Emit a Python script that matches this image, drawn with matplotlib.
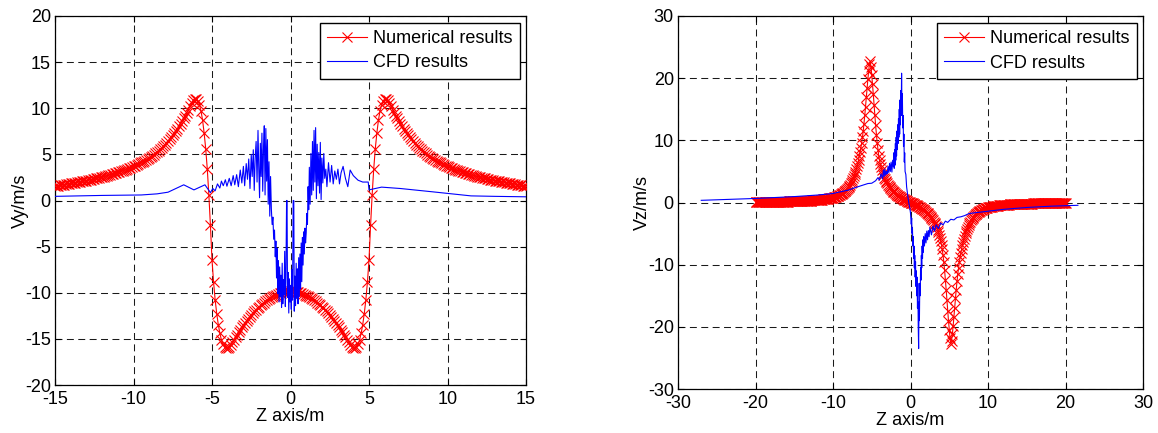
import numpy as np
import matplotlib
matplotlib.use("Agg")
import matplotlib.pyplot as plt

plt.rcParams['font.family'] = ['Liberation Sans', 'DejaVu Sans']
plt.rcParams['axes.unicode_minus'] = False
plt.rcParams['lines.scale_dashes'] = False

# ---------------------------------------------------------------------------
# Vy along the Z axis (left panel)
# Numerical Vy sampled every 0.1 m for z = 0 ... 15 m; the profile is
# symmetric about z = 0, so the z < 0 half reuses the same samples.
vy_num_half = [
    -9.80, -9.81, -9.82, -9.85, -9.89, -9.95, -10.01, -10.08, -10.15, -10.22,
    -10.30, -10.39, -10.48, -10.58, -10.69, -10.80, -10.93, -11.06, -11.20, -11.35,
    -11.50, -11.67, -11.84, -12.02, -12.21, -12.40, -12.61, -12.82, -13.04, -13.27,
    -13.50, -13.75, -14.00, -14.26, -14.53, -14.80, -15.08, -15.36, -15.62, -15.85,
    -16.00, -16.02, -15.90, -15.60, -15.10, -14.40, -13.45, -12.25, -10.75, -8.85,
    -6.45, -2.70, 0.60, 3.40, 5.60, 7.30, 8.70, 9.70, 10.40, 10.80,
    11.00, 11.05, 10.88, 10.58, 10.22, 9.86, 9.52, 9.20, 8.90, 8.60,
    8.32, 8.05, 7.79, 7.54, 7.30, 7.07, 6.85, 6.64, 6.44, 6.25,
    6.06, 5.88, 5.71, 5.55, 5.40, 5.25, 5.11, 4.98, 4.85, 4.72,
    4.60, 4.50, 4.40, 4.30, 4.21, 4.12, 4.03, 3.95, 3.87, 3.79,
    3.71, 3.64, 3.57, 3.50, 3.43, 3.36, 3.29, 3.23, 3.17, 3.11,
    3.05, 2.99, 2.94, 2.89, 2.84, 2.79, 2.74, 2.69, 2.64, 2.60,
    2.55, 2.51, 2.47, 2.43, 2.39, 2.35, 2.31, 2.27, 2.23, 2.20,
    2.16, 2.13, 2.09, 2.06, 2.03, 2.00, 1.97, 1.94, 1.91, 1.88,
    1.85, 1.82, 1.79, 1.76, 1.73, 1.70, 1.67, 1.65, 1.62, 1.60,
    1.57,
]

# CFD Vy (irregular mesh points)
z_cfd_vy = [
    -15.00, -12.00, -9.50, -8.50, -7.80, -6.80, -6.15, -5.45, -5.10, -4.95,
    -4.80, -4.65, -4.50, -4.40, -4.28, -4.15, -4.05, -3.90, -3.78, -3.65,
    -3.55, -3.43, -3.32, -3.20, -3.10, -3.00, -2.92, -2.82, -2.74, -2.66,
    -2.58, -2.50, -2.44, -2.37, -2.31, -2.25, -2.19, -2.13, -2.07, -2.02,
    -1.97, -1.92, -1.87, -1.82, -1.77, -1.72, -1.67, -1.62, -1.57, -1.52,
    -1.47, -1.42, -1.37, -1.32, -1.27, -1.22, -1.17, -1.12, -1.07, -1.02,
    -0.97, -0.93, -0.89, -0.85, -0.81, -0.77, -0.73, -0.69, -0.65, -0.61,
    -0.57, -0.53, -0.49, -0.45, -0.41, -0.37, -0.33, -0.29, -0.25, -0.22,
    -0.19, -0.15, -0.11, -0.07, -0.03, 0.01, 0.05, 0.09, 0.13, 0.17,
    0.21, 0.24, 0.28, 0.32, 0.36, 0.40, 0.44, 0.48, 0.52, 0.56,
    0.60, 0.64, 0.68, 0.72, 0.76, 0.80, 0.84, 0.88, 0.92, 0.96,
    1.00, 1.04, 1.08, 1.12, 1.16, 1.20, 1.25, 1.30, 1.35, 1.40,
    1.45, 1.50, 1.55, 1.60, 1.65, 1.70, 1.75, 1.80, 1.85, 1.90,
    1.95, 2.00, 2.06, 2.12, 2.18, 2.25, 2.32, 2.42, 2.52, 2.62,
    2.72, 2.82, 2.92, 3.02, 3.12, 3.22, 3.35, 3.50, 3.65, 3.80,
    4.00, 4.30, 4.60, 4.95, 5.00, 5.80, 7.00, 9.00, 11.50, 13.00,
    15.00,
]
vy_cfd = [
    0.45, 0.55, 0.60, 0.72, 0.90, 1.70, 1.15, 1.70, 0.85, 1.30,
    1.05, 1.80, 1.35, 2.10, 1.60, 2.25, 1.55, 2.40, 1.60, 2.70,
    1.70, 2.80, 1.50, 3.30, 1.90, 3.70, 1.60, 4.00, 2.30, 4.50,
    1.30, 5.00, 2.60, 5.50, 1.10, 4.60, 6.40, 2.00, 7.60, 3.40,
    0.30, 6.20, 2.60, 7.30, 1.00, 5.50, 8.10, 0.60, 7.80, 2.10,
    6.60, -0.40, 4.20, -1.70, 2.60, -0.90, -2.60, -1.80, -4.20, -3.20,
    -6.10, -4.40, -8.40, -5.20, -10.10, -6.50, -11.00, -7.20, -10.40, -8.10,
    -11.60, -6.80, -11.20, -8.60, -10.20, -5.50, -11.50, -8.00, 0.00, 0.00,
    -10.50, -7.80, -12.20, -8.50, -11.00, -9.20, -11.80, -7.50, -10.80, 0.00,
    0.00, -12.00, -8.20, -11.40, -6.80, -10.60, -7.40, -11.20, -6.20, -10.40,
    -5.80, -9.60, -4.60, -8.80, -4.00, -7.00, -3.40, -5.80, -3.00, -4.60,
    -3.50, -1.40, -2.60, 1.50, -1.00, 3.60, -0.40, 5.10, 0.60, 6.40,
    1.10, 7.60, 2.00, 7.90, 0.20, 6.10, 1.60, 5.20, 0.80, 6.30,
    0.10, 4.60, 1.90, 5.10, 2.40, 3.40, 1.50, 4.10, 2.00, 3.80,
    1.80, 3.20, 2.30, 3.40, 1.80, 3.00, 3.70, 2.40, 1.50, 3.30,
    2.70, 2.20, 2.00, 2.00, 1.15, 1.45, 1.30, 0.95, 0.50, 0.45,
    0.40,
]

# ---------------------------------------------------------------------------
# Vz along the Z axis (right panel)
# Numerical Vz sampled every 0.1 m for z = 0, -0.1, ... -20 m; the profile is
# antisymmetric about z = 0, so z > 0 takes the same samples with opposite sign.
vz_num_neg = [
    0.00, 0.05, 0.10, 0.15, 0.21, 0.27, 0.33, 0.39, 0.45, 0.52,
    0.59, 0.66, 0.74, 0.82, 0.90, 0.99, 1.08, 1.18, 1.28, 1.39,
    1.51, 1.63, 1.76, 1.89, 2.04, 2.20, 2.36, 2.53, 2.71, 2.88,
    3.06, 3.25, 3.46, 3.70, 4.00, 4.36, 4.77, 5.22, 5.70, 6.23,
    6.80, 7.55, 8.50, 9.60, 10.90, 12.40, 14.00, 15.70, 17.40, 19.00,
    20.50, 21.80, 22.70, 22.20, 21.20, 19.90, 18.40, 16.90, 15.40, 14.00,
    12.70, 11.50, 10.50, 9.60, 8.80, 8.10, 7.45, 6.85, 6.30, 5.80,
    5.35, 4.93, 4.55, 4.20, 3.88, 3.59, 3.33, 3.09, 2.87, 2.67,
    2.49, 2.32, 2.17, 2.03, 1.90, 1.78, 1.67, 1.57, 1.48, 1.40,
    1.32, 1.25, 1.18, 1.12, 1.06, 1.01, 0.96, 0.92, 0.88, 0.84,
    0.80, 0.77, 0.74, 0.71, 0.68, 0.66, 0.63, 0.61, 0.59, 0.57,
    0.55, 0.53, 0.51, 0.50, 0.48, 0.47, 0.45, 0.44, 0.43, 0.41,
    0.40, 0.39, 0.38, 0.37, 0.36, 0.35, 0.34, 0.33, 0.32, 0.32,
    0.31, 0.30, 0.29, 0.29, 0.28, 0.27, 0.27, 0.26, 0.25, 0.25,
    0.24, 0.24, 0.23, 0.23, 0.22, 0.22, 0.21, 0.21, 0.20, 0.20,
    0.19, 0.19, 0.19, 0.18, 0.18, 0.17, 0.17, 0.17, 0.16, 0.16,
    0.16, 0.15, 0.15, 0.15, 0.15, 0.14, 0.14, 0.14, 0.13, 0.13,
    0.13, 0.13, 0.12, 0.12, 0.12, 0.12, 0.12, 0.11, 0.11, 0.11,
    0.11, 0.11, 0.10, 0.10, 0.10, 0.10, 0.10, 0.10, 0.09, 0.09,
    0.09, 0.09, 0.09, 0.09, 0.09, 0.08, 0.08, 0.08, 0.08, 0.08,
    0.08,
]

# CFD Vz (irregular mesh points)
z_cfd_vz = [
    -27.00, -20.00, -15.00, -12.00, -10.00, -8.00, -7.00, -6.00, -5.50, -5.00,
    -4.50, -4.20, -4.00, -3.80, -3.60, -3.50, -3.40, -3.30, -3.20, -3.10,
    -3.00, -2.90, -2.80, -2.70, -2.60, -2.50, -2.40, -2.30, -2.20, -2.15,
    -2.10, -2.05, -2.00, -1.95, -1.90, -1.85, -1.80, -1.75, -1.70, -1.65,
    -1.60, -1.55, -1.50, -1.45, -1.40, -1.35, -1.30, -1.25, -1.20, -1.15,
    -1.10, -1.05, -1.00, -0.95, -0.90, -0.85, -0.80, -0.75, -0.70, -0.60,
    -0.50, -0.40, -0.30, -0.20, -0.10, 0.00, 0.10, 0.15, 0.20, 0.25,
    0.30, 0.35, 0.40, 0.45, 0.50, 0.55, 0.60, 0.65, 0.70, 0.75,
    0.80, 0.85, 0.90, 0.95, 1.00, 1.05, 1.10, 1.15, 1.20, 1.25,
    1.30, 1.35, 1.40, 1.45, 1.50, 1.55, 1.60, 1.65, 1.70, 1.80,
    1.90, 2.00, 2.10, 2.20, 2.30, 2.40, 2.50, 2.70, 2.90, 3.10,
    3.30, 3.60, 3.90, 4.20, 4.50, 4.80, 5.20, 5.60, 6.00, 6.50,
    7.00, 7.50, 8.00, 10.00, 12.00, 15.00, 18.00, 21.60,
]
vz_cfd = [
    0.35, 0.65, 0.95, 1.20, 1.45, 2.00, 2.45, 2.85, 3.05, 3.10,
    3.50, 4.00, 3.60, 4.60, 3.80, 5.20, 4.20, 5.40, 4.40, 5.00,
    4.60, 5.80, 4.80, 6.30, 5.00, 6.50, 4.90, 6.80, 5.80, 8.00,
    5.50, 8.50, 6.00, 9.50, 6.80, 10.50, 7.50, 11.50, 8.50, 12.50,
    9.50, 13.50, 10.50, 15.00, 11.00, 16.50, 12.50, 18.00, 14.00, 20.80,
    15.00, 17.50, 12.00, 14.00, 9.00, 11.00, 6.50, 8.00, 5.00, 4.50,
    2.50, 1.50, 0.60, -0.20, -0.80, -1.70, -3.50, -2.50, -5.00, -4.00,
    -7.00, -5.50, -9.00, -7.00, -10.50, -8.50, -12.00, -9.50, -13.50, -11.00,
    -15.00, -12.00, -17.00, -13.00, -20.00, -23.50, -16.00, -19.00, -13.00, -15.00,
    -10.50, -12.50, -8.50, -10.50, -7.00, -9.00, -6.00, -8.00, -5.50, -7.00,
    -5.00, -6.50, -4.60, -6.00, -4.50, -5.50, -4.00, -5.20, -3.80, -4.60,
    -3.60, -4.20, -3.30, -3.60, -3.00, -3.20, -2.70, -2.80, -2.40, -2.30,
    -2.10, -1.80, -1.70, -1.40, -1.10, -0.80, -0.60, -0.45,
]

legend_labels = ['Numerical results', 'CFD results']

# ---------------------------------------------------------------------------
vy_half = np.asarray(vy_num_half)
z_vy = np.round(np.linspace(-15.0, 15.0, 2 * len(vy_half) - 1), 2)
vy_num = np.concatenate([vy_half[:0:-1], vy_half])

vz_neg = np.asarray(vz_num_neg)
z_vz = np.round(np.linspace(-20.0, 20.0, 2 * len(vz_neg) - 1), 2)
vz_num = np.concatenate([vz_neg[::-1], -vz_neg[1:]])

fig = plt.figure(figsize=(11.58, 4.33), dpi=100)
ax1 = fig.add_axes([55 / 1158, 48 / 433, 471 / 1158, 369 / 433])
ax2 = fig.add_axes([678 / 1158, 44 / 433, 465 / 1158, 373 / 433])

FS = 13


def draw(ax, z_num, v_num, z_cfd, v_cfd, lim_x, lim_y, ticks_x, ticks_y,
         ylabel, ylabel_x):
    ax.plot(z_num, v_num, color='#ff0000', lw=0.8, marker='x', ms=6.5, mew=0.8,
            label=legend_labels[0], zorder=3)
    ax.plot(z_cfd, v_cfd, color='#0000ff', lw=0.8, label=legend_labels[1], zorder=4)
    ax.set_xlim(lim_x)
    ax.set_ylim(lim_y)
    ax.set_xticks(ticks_x)
    ax.set_yticks(ticks_y)
    ax.set_axisbelow(True)
    ax.grid(True, color='#1a1a1a', linestyle=(0, (5.0, 3.2)), linewidth=0.75)
    ax.tick_params(direction='in', top=True, right=True, length=4, width=0.8,
                   labelsize=FS, colors='k')
    ax.tick_params(axis='x', pad=4)
    ax.tick_params(axis='y', pad=3)
    for sp in ax.spines.values():
        sp.set_linewidth(0.9)
        sp.set_color('k')
    ax.set_xlabel('Z axis/m', fontsize=FS, labelpad=0)
    ax.set_ylabel(ylabel, fontsize=FS)
    ax.yaxis.set_label_coords(ylabel_x, 0.5)
    leg = ax.legend(loc='upper right', bbox_to_anchor=(0.987, 0.982),
                    borderaxespad=0, fancybox=False, framealpha=1,
                    edgecolor='k', fontsize=FS, handlelength=2.2,
                    handletextpad=0.35, borderpad=0.4, labelspacing=0.42)
    leg.get_frame().set_linewidth(1.0)


draw(ax1, z_vy, vy_num, z_cfd_vy, vy_cfd, (-15, 15), (-20, 20),
     np.arange(-15, 16, 5), np.arange(-20, 21, 5), 'Vy/m/s', -0.056)
draw(ax2, z_vz, vz_num, z_cfd_vz, vz_cfd, (-30, 30), (-30, 30),
     np.arange(-30, 31, 10), np.arange(-30, 31, 10), 'Vz/m/s', -0.058)

fig.savefig('out.png', dpi=100)
